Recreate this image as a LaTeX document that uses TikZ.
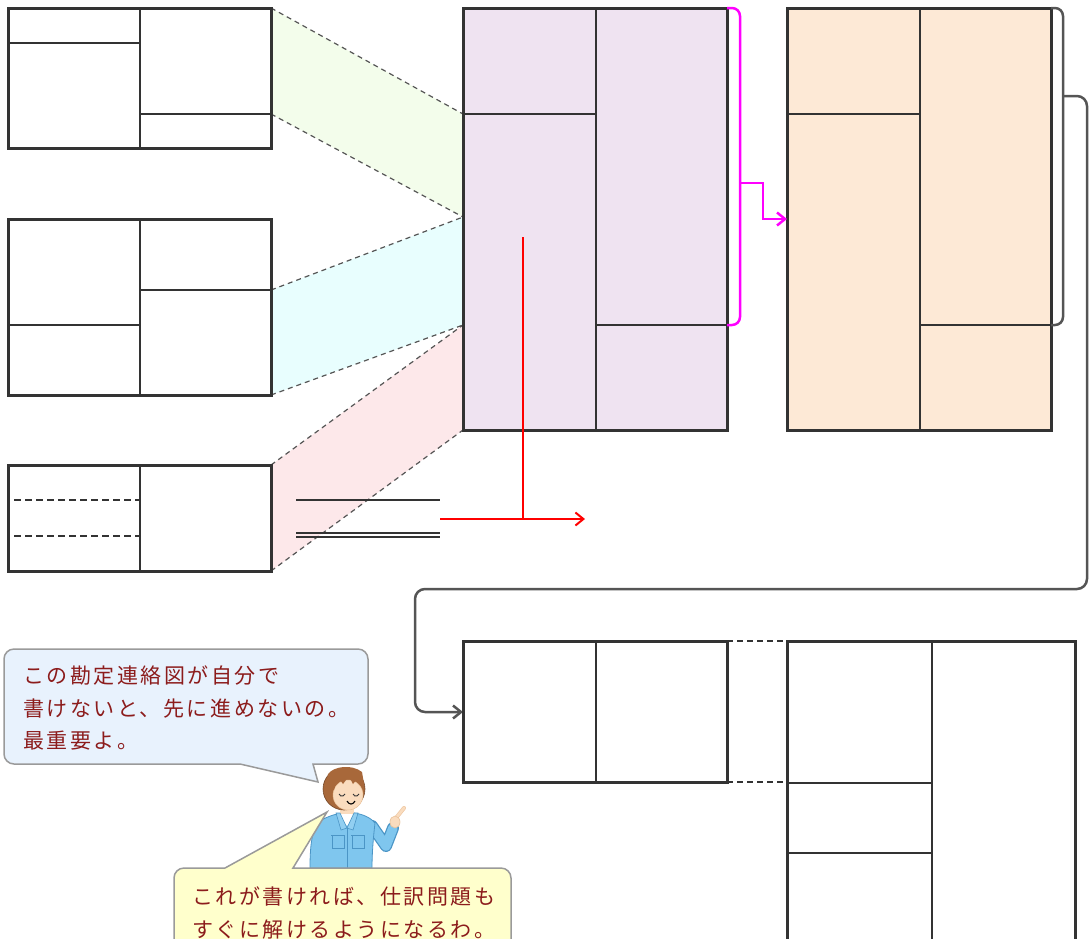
\documentclass[tikz,border=0pt]{standalone}
\usepackage{fontspec}
\newfontfamily\jpfont[LetterSpace=12]{Noto Sans CJK JP}
\usetikzlibrary{arrows.meta}

\definecolor{ink}{HTML}{333333}
\definecolor{purplefill}{HTML}{EFE3F1}
\definecolor{orangefill}{HTML}{FDE9D6}
\definecolor{greenfill}{HTML}{F3FDEB}
\definecolor{cyanfill}{HTML}{E8FEFE}
\definecolor{pinkfill}{HTML}{FDE8EA}
\definecolor{bluebubble}{HTML}{E8F2FD}
\definecolor{yellowbubble}{HTML}{FFFFCC}
\definecolor{bubbleedge}{HTML}{9A9A9A}
\definecolor{saytext}{RGB}{140,28,28}
\definecolor{linkgray}{HTML}{555555}
\definecolor{transfer}{RGB}{255,0,255}
\definecolor{redline}{RGB}{255,0,0}
\definecolor{hair}{HTML}{A8683A}
\definecolor{skin}{HTML}{FADCBE}
\definecolor{jacket}{HTML}{7FC6EE}
\definecolor{jacketdark}{HTML}{4B95C6}

\tikzset{
  frame/.style={draw=ink, line width=3pt, outer sep=0pt, inner sep=0pt, anchor=north west},
  rule/.style={draw=ink, line width=2pt},
  fan/.style={draw=linkgray, line width=1.2pt, dash pattern=on 5pt off 4pt},
  guide/.style={draw=ink, line width=2pt, dash pattern=on 7pt off 4pt},
  bubble/.style={draw=bubbleedge, line width=1.5pt},
  say/.style={font=\jpfont\fontsize{21}{33}\selectfont, text=saytext, inner sep=0pt, anchor=base west},
  tip/.style={-{Straight Barb[length=8pt,width=13pt]}},
}

\begin{document}
\begin{tikzpicture}[x=1pt,y=-1pt]
\useasboundingbox (0,0) rectangle (1091,938);
\clip (0,0) rectangle (1091,938);

% ---------- anchor points on the purple account ----------
\coordinate (P0) at (463,8);
\coordinate (P1) at (463,114);
\coordinate (P2) at (463,217);
\coordinate (P3) at (463,325);
\coordinate (P4) at (463,430);

% ---------- source accounts on the left ----------
\node[frame, minimum width=263pt, minimum height=140pt] (boxA) at (8,8) {};
\node[frame, minimum width=263pt, minimum height=176pt] (boxB) at (8,219) {};
\node[frame, minimum width=263pt, minimum height=106pt] (boxC) at (8,465) {};

\coordinate (A1) at (271,114);
\coordinate (B1) at (271,290);

% coloured fans
\fill[greenfill] (boxA.north east) -- (P1) -- (P2) -- (A1) -- cycle;
\fill[cyanfill] (B1) -- (P2) -- (P3) -- (boxB.south east) -- cycle;
\fill[pinkfill] (boxC.north east) -- (P3) -- (P4) -- (boxC.south east) -- cycle;
\draw[fan] (boxA.north east) -- (P1);
\draw[fan] (A1) -- (P2);
\draw[fan] (B1) -- (P2);
\draw[fan] (boxB.south east) -- (P3);
\draw[fan] (boxC.north east) -- (P3);
\draw[fan] (boxC.south east) -- (P4);

% redraw the frames over the fans
\node[frame, minimum width=263pt, minimum height=140pt] at (8,8) {};
\node[frame, minimum width=263pt, minimum height=176pt] at (8,219) {};
\node[frame, minimum width=263pt, minimum height=106pt] at (8,465) {};

% inner rulings
\draw[rule] (140,8) -- (140,148);
\draw[rule] (8,43) -- (140,43);
\draw[rule] (140,114) -- (271,114);

\draw[rule] (140,219) -- (140,395);
\draw[rule] (8,325) -- (140,325);
\draw[rule] (140,290) -- (271,290);

\draw[rule] (140,465) -- (140,571);
\draw[guide] (14,500) -- (140,500);
\draw[guide] (14,536) -- (140,536);

% ---------- purple and orange accounts ----------
\node[frame, fill=purplefill, minimum width=264pt, minimum height=422pt] (boxP) at (463,8) {};
\draw[rule] (596,8) -- (596,430);
\draw[rule] (463,114) -- (596,114);
\draw[rule] (596,325) -- (727,325);

\node[frame, fill=orangefill, minimum width=264pt, minimum height=422pt] (boxO) at (787,8) {};
\draw[rule] (920,8) -- (920,430);
\draw[rule] (787,114) -- (920,114);
\draw[rule] (920,325) -- (1051,325);

% magenta bracket and transfer arrow
\coordinate (M0) at (727,8);
\coordinate (M1) at (727,325);
\coordinate (MB) at (740,183);
\coordinate (O1) at (787,219);
\draw[transfer, line width=2.5pt, rounded corners=8pt] (M0) -- (740,8) -- (740,325) -- (M1);
\draw[transfer, line width=2.5pt, tip] (MB) -- (763,183) -- (763,219) -- (O1);

% gray bracket and long connector
\coordinate (G0) at (1051,8);
\coordinate (G1) at (1051,325);
\coordinate (GB) at (1063,96);
\coordinate (D1) at (463,712);
\draw[linkgray, line width=2.5pt, rounded corners=8pt] (G0) -- (1063,8) -- (1063,325) -- (G1);
\draw[linkgray, line width=2.5pt, rounded corners=10pt, tip] (GB) -- (1087,96) -- (1087,589) -- (415,589) -- (415,712) -- (D1);

% red arrow and rulings
\coordinate (R0) at (523,237);
\coordinate (R1) at (523,519);
\coordinate (R2) at (440,519);
\coordinate (R3) at (585,519);
\draw[redline, line width=2pt] (R0) -- (R1);
\draw[redline, line width=2pt, tip] (R2) -- (R3);

\coordinate (L0) at (296,500);
\coordinate (L1) at (440,500);
\draw[ink, line width=2pt] (L0) -- (L1);
\coordinate (L2) at (296,533);
\coordinate (L3) at (440,533);
\coordinate (L4) at (296,537);
\coordinate (L5) at (440,537);
\draw[ink, line width=1.6pt] (L2) -- (L3);
\draw[ink, line width=1.6pt] (L4) -- (L5);

% ---------- bottom accounts ----------
\node[frame, minimum width=264pt, minimum height=141pt] (boxD) at (463,641) {};
\draw[rule] (596,641) -- (596,782);

\draw[ink, line width=3pt] (787,960) -- (787,641) -- (1075,641) -- (1075,960);
\coordinate (E0) at (787,641);
\coordinate (E1) at (787,782);
\draw[rule] (932,641) -- (932,960);
\draw[rule] (787,783) -- (932,783);
\draw[rule] (787,853) -- (932,853);

\draw[ink, line width=2pt, dash pattern=on 6pt off 4pt] (boxD.north east) -- (E0);
\draw[ink, line width=2pt, dash pattern=on 6pt off 4pt] (boxD.south east) -- (E1);

% ---------- speech bubble (blue) ----------
\path[bubble, fill=bluebubble]
  (240,764) -- (318,782) -- (313,764)
  [rounded corners=10pt] -- (368,764) -- (368,649) -- (4,649) -- (4,764)
  [sharp corners] -- cycle;
\node[say] (s1) at (23,683) {この勘定連絡図が自分で};
\node[say] (s2) at (23,716) {書けないと、先に進めないの。};
\node[say] (s3) at (23,748) {最重要よ。};

% ---------- the girl ----------
% arm
\draw[jacketdark, line width=12pt, line cap=round, line join=round] (372,826) -- (386,846) -- (393,828);
\draw[jacket, line width=9.5pt, line cap=round, line join=round] (372,826) -- (386,846) -- (393,828);
% hand and pointing finger
\draw[skin!80!brown, line width=4pt, line cap=round] (396,818) -- (404,808);
\draw[skin, line width=2.6pt, line cap=round] (396,818) -- (404,808);
\filldraw[fill=skin, draw=skin!70!brown, line width=0.6pt] (395,822) ellipse (5pt and 6pt);
% body
\filldraw[fill=jacket, draw=jacketdark, line width=0.8pt]
  (310,868) .. controls (310,845) and (312,828) .. (320,821)
  .. controls (328,816) and (336,814) .. (342,813) -- (354,813)
  .. controls (362,814) and (370,817) .. (375,823)
  .. controls (373,840) and (372,855) .. (372,868) -- cycle;
% neck and shirt
\fill[skin] (340,806) rectangle (354,817);
\fill[white] (339,814) -- (355,814) -- (347,826) -- cycle;
% collar flaps
\filldraw[fill=jacket!85!white, draw=jacketdark, line width=0.6pt] (336,813) -- (340,813) -- (347,828) -- (341,830) -- cycle;
\filldraw[fill=jacket!85!white, draw=jacketdark, line width=0.6pt] (358,813) -- (354,813) -- (347,828) -- (353,830) -- cycle;
% zip and pockets
\draw[jacketdark, line width=0.6pt] (347,828) -- (347,868);
\draw[jacketdark, line width=0.6pt] (332,835) rectangle (344,848);
\draw[jacketdark, line width=0.6pt] (352,835) rectangle (364,848);
\draw[jacketdark, line width=0.6pt] (331,835) -- (345,835);
\draw[jacketdark, line width=0.6pt] (351,835) -- (365,835);
% head
\filldraw[fill=hair, draw=hair!70!black, line width=0.6pt] (344,789) ellipse (21pt and 21pt);
\filldraw[fill=skin, draw=skin!70!brown, line width=0.5pt] (348,795) ellipse (15pt and 15pt);
% fringe
\fill[hair] (326,790) -- (328,774) .. controls (334,766) and (352,764) .. (362,772)
  -- (364,784) -- (358,778) -- (353,784) -- (349,776) -- (343,784) -- (338,777) -- (334,790) -- cycle;
% closed eyes and smile
\draw[black!80, line width=0.9pt] (339,794) arc (200:340:3.2pt);
\draw[black!80, line width=0.9pt] (353,794) arc (200:340:3.2pt);
\draw[black, line width=1.1pt] (347,801) .. controls (349,805) and (353,805) .. (355,801);

% ---------- speech bubble (yellow) ----------
\path[bubble, fill=yellowbubble]
  (174,960) [rounded corners=10pt] -- (174,868) [sharp corners] -- (225,868)
  -- (327,812) -- (293,868)
  [rounded corners=10pt] -- (511,868) -- (511,960);
\node[say] (s4) at (192,904) {これが書ければ、仕訳問題も};
\node[say] (s5) at (192,937) {すぐに解けるようになるわ。};
\end{tikzpicture}
\end{document}
